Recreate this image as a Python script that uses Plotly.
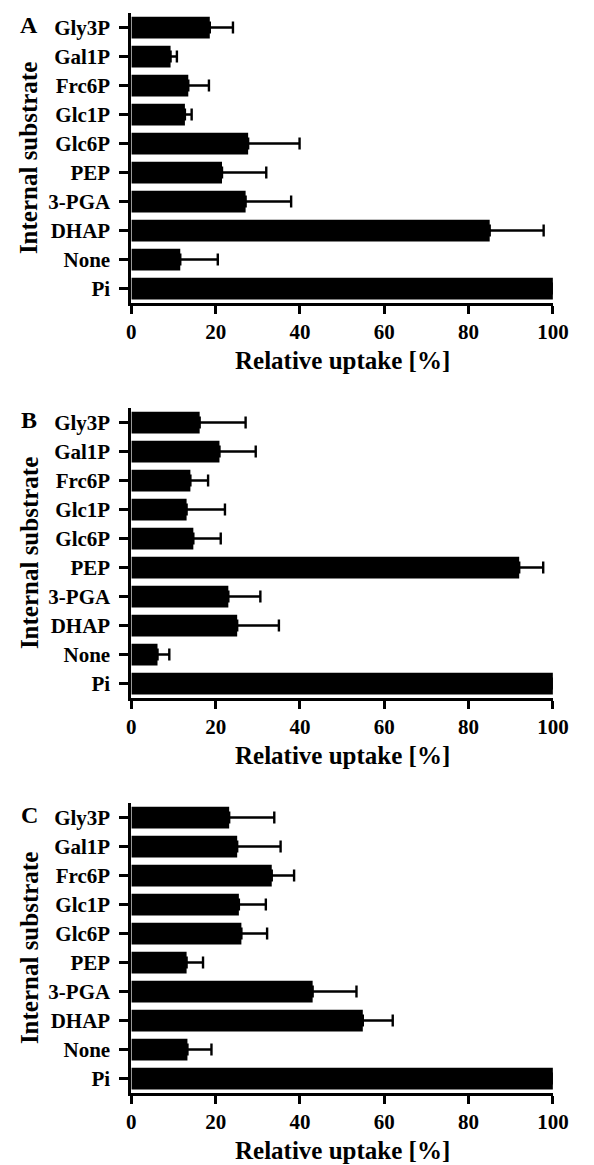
import plotly.graph_objects as go

# Categories from bottom to top
categories = ["Pi", "None", "DHAP", "3-PGA", "PEP", "Glc6P", "Glc1P", "Frc6P", "Gal1P", "Gly3P"]

panel_labels = ["A", "B", "C"]

values_a = [100, 11.6, 85.0, 27.1, 21.5, 27.7, 12.7, 13.5, 9.3, 18.6]
errors_a = [0, 8.9, 12.8, 10.8, 10.5, 12.2, 1.6, 4.9, 1.5, 5.5]

values_b = [100, 6.2, 25.1, 23.0, 92.0, 14.7, 13.1, 14.0, 20.9, 16.2]
errors_b = [0, 2.8, 9.9, 7.6, 5.7, 6.5, 9.1, 4.2, 8.6, 10.9]

values_c = [100, 13.3, 54.9, 43.0, 13.1, 26.1, 25.5, 33.3, 25.1, 23.2]
errors_c = [0, 5.7, 7.1, 10.4, 3.9, 6.1, 6.4, 5.3, 10.3, 10.7]

x_ticks = [0, 20, 40, 60, 80, 100]
x_title = "Relative uptake [%]"
y_title = "Internal substrate"

W, H = 594, 1165
FONT = "Liberation Serif, Times New Roman, serif"

# panel pixel geometry (top, bottom) of plot areas
panels_px = [(13, 303), (408, 698), (803, 1093)]
x_left, x_right = 131, 568

series = [(values_a, errors_a), (values_b, errors_b), (values_c, errors_c)]

fig = go.Figure()
annotations = []
for i, ((vals, errs), (top, bot)) in enumerate(zip(series, panels_px)):
    n = "" if i == 0 else str(i + 1)
    fig.add_trace(go.Bar(
        x=vals, y=categories, orientation="h",
        marker=dict(color="black", line=dict(width=0)),
        error_x=dict(type="data", array=errs, arrayminus=[0] * len(errs),
                     symmetric=False, color="black", thickness=2.4, width=6),
        xaxis="x" + n, yaxis="y" + n, showlegend=False,
    ))
    dom_y = [1 - bot / H, 1 - top / H]
    fig.layout["xaxis" + n] = dict(
        domain=[x_left / W, x_right / W], range=[0, 100], anchor="y" + n,
        tickvals=x_ticks, ticktext=[str(t) for t in x_ticks],
        ticks="outside", ticklen=8, tickwidth=2.5, tickcolor="black",
        showline=True, linewidth=3, linecolor="black",
        showgrid=False, zeroline=False,
        tickfont=dict(family=FONT, size=21, color="black", weight="bold"),
        ticklabelstandoff=0,
    )
    fig.layout["yaxis" + n] = dict(
        domain=dom_y, range=[-0.5, 9.5], anchor="x" + n,
        type="category", categoryorder="array", categoryarray=categories,
        ticks="outside", ticklen=9, tickwidth=2.5, tickcolor="black",
        showline=True, linewidth=3, linecolor="black",
        showgrid=False, zeroline=False,
        tickfont=dict(family=FONT, size=21, color="black", weight="bold"),
        ticklabelstandoff=5,
    )
    # x-axis title
    annotations.append(dict(
        text=x_title, xref="paper", yref="paper",
        x=(x_left + x_right) / 2 / W, y=1 - (bot + 57) / H,
        xanchor="center", yanchor="middle", showarrow=False,
        font=dict(family=FONT, size=25, color="black", weight="bold"),
    ))
    # y-axis title
    annotations.append(dict(
        text=y_title, xref="paper", yref="paper",
        x=25 / W, y=1 - (top + bot) / 2 / H, textangle=-90,
        xanchor="center", yanchor="middle", showarrow=False,
        font=dict(family=FONT, size=25, color="black", weight="bold"),
    ))
    # panel letter
    annotations.append(dict(
        text=panel_labels[i], xref="paper", yref="paper",
        x=25 / W, y=1 - (top + 12) / H,
        xanchor="center", yanchor="middle", showarrow=False,
        font=dict(family=FONT, size=24, color="black", weight="bold"),
    ))

fig.update_layout(
    width=W, height=H, margin=dict(l=0, r=0, t=0, b=0),
    paper_bgcolor="white", plot_bgcolor="white",
    bargap=0.25, annotations=annotations,
)

fig.write_html("out.html", config={"displayModeBar": False},
               post_script="document.body.style.margin='0';")
